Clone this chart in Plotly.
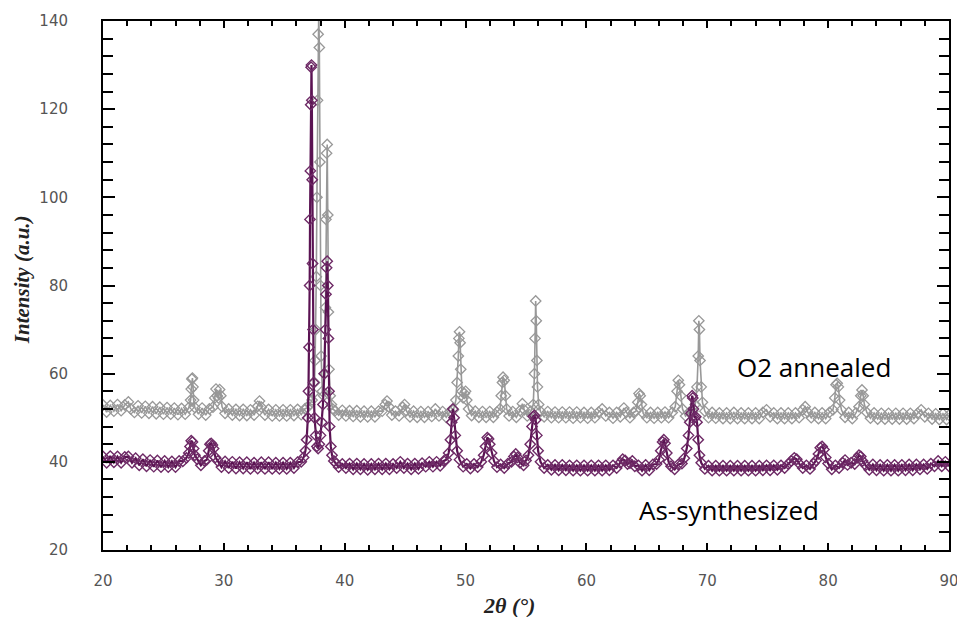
import plotly.graph_objects as go

# ---- O2 annealed (grey) ----
o2_x = [20.0, 20.3, 20.6, 20.9, 21.2, 21.5, 21.8, 22.1, 22.3, 22.6, 22.9, 23.2, 23.5, 23.8, 24.1, 24.4, 24.7, 25.0,
        25.3, 25.6, 25.9, 26.2, 26.5, 26.8, 27.1, 27.25, 27.3, 27.35, 27.4, 27.45, 27.5, 27.6, 27.9, 28.2, 28.5, 28.8,
        29.1, 29.25, 29.35, 29.45, 29.55, 29.65, 29.75, 29.85, 30.1, 30.4, 30.7, 31.0, 31.3, 31.6, 31.9, 32.2, 32.5,
        32.8, 32.95, 33.1, 33.4, 33.7, 34.0, 34.3, 34.6, 34.9, 35.2, 35.5, 35.8, 36.1, 36.4, 36.7, 36.9, 37.1, 37.3,
        37.4, 37.5, 37.55, 37.6, 37.65, 37.7, 37.75, 37.8, 37.85, 37.9, 37.95, 38.0, 38.05, 38.15, 38.25, 38.35, 38.4,
        38.45, 38.5, 38.55, 38.6, 38.65, 38.7, 38.8, 38.9, 39.0, 39.2, 39.5, 39.8, 40.1, 40.4, 40.7, 41.0, 41.3, 41.6,
        41.9, 42.2, 42.5, 42.8, 43.1, 43.35, 43.5, 43.65, 43.9, 44.2, 44.5, 44.8, 44.95, 45.1, 45.4, 45.7, 46.0, 46.3,
        46.6, 46.9, 47.2, 47.5, 47.8, 48.1, 48.4, 48.7, 49.0, 49.2, 49.3, 49.4, 49.45, 49.5, 49.55, 49.6, 49.7, 49.8,
        49.9, 50.0, 50.1, 50.25, 50.5, 50.8, 51.1, 51.4, 51.7, 52.0, 52.3, 52.6, 52.85, 52.95, 53.05, 53.1, 53.2, 53.3,
        53.4, 53.6, 53.9, 54.2, 54.5, 54.7, 54.85, 55.1, 55.4, 55.6, 55.7, 55.75, 55.8, 55.85, 55.9, 55.95, 56.05,
        56.2, 56.5, 56.8, 57.1, 57.4, 57.7, 58.0, 58.3, 58.6, 58.9, 59.2, 59.5, 59.8, 60.1, 60.4, 60.7, 61.0, 61.3,
        61.6, 61.9, 62.2, 62.5, 62.8, 63.1, 63.3, 63.6, 63.9, 64.1, 64.25, 64.35, 64.45, 64.55, 64.7, 65.0, 65.3, 65.6,
        65.9, 66.2, 66.5, 66.8, 67.1, 67.35, 67.5, 67.6, 67.7, 67.8, 67.95, 68.2, 68.5, 68.8, 69.0, 69.15, 69.25, 69.3,
        69.35, 69.4, 69.5, 69.6, 69.8, 70.1, 70.4, 70.7, 71.0, 71.3, 71.6, 71.9, 72.2, 72.5, 72.8, 73.1, 73.4, 73.7,
        74.0, 74.3, 74.6, 74.9, 75.2, 75.5, 75.8, 76.1, 76.4, 76.7, 77.0, 77.3, 77.6, 77.9, 78.1, 78.3, 78.6, 78.9,
        79.2, 79.5, 79.8, 80.1, 80.4, 80.55, 80.65, 80.75, 80.85, 80.95, 81.1, 81.4, 81.7, 82.0, 82.3, 82.55, 82.7,
        82.8, 82.9, 83.0, 83.2, 83.5, 83.8, 84.1, 84.4, 84.7, 85.0, 85.3, 85.6, 85.9, 86.2, 86.5, 86.8, 87.1, 87.4,
        87.7, 88.0, 88.3, 88.6, 88.9, 89.2, 89.5, 89.8, 90.0]
o2_y = [52.9, 51.3, 52.8, 51.5, 53.0, 51.6, 52.9, 53.6, 52.0, 51.2, 52.7, 51.1, 52.6, 51.0, 52.5, 50.9, 52.4, 50.8,
        52.3, 50.8, 52.2, 50.7, 52.1, 50.8, 52.3, 54.0, 56.5, 58.8, 59.0, 57.0, 54.0, 52.3, 50.8, 52.2, 50.6, 52.0,
        52.4, 54.5, 56.5, 55.0, 54.5, 56.4, 55.0, 52.5, 51.0, 52.0, 50.6, 51.9, 50.5, 51.9, 50.5, 51.8, 50.6,
        52.6, 53.8, 52.4, 50.6, 51.9, 50.4, 51.8, 50.4, 51.8, 50.4, 51.8, 50.5, 51.9, 50.7, 52.0, 52.3, 53.0, 54.0,
        55.5, 58.0, 63.0, 70.0, 82.0, 100.0, 122.0, 137.0, 142.0, 134.0, 108.0, 80.0, 64.0, 56.0, 55.0, 60.0, 75.0,
        95.0, 110.0, 112.0, 96.0, 74.0, 61.0, 55.0, 53.0, 52.0, 51.6, 50.6, 51.7, 50.4, 51.6, 50.3, 51.6, 50.2, 51.5,
        50.2, 51.5, 50.2, 51.5, 51.5, 53.0, 53.8, 52.5, 50.6, 51.5, 50.4, 52.4, 53.0, 51.6, 50.2, 51.5, 50.1, 51.4,
        50.1, 51.4, 50.3, 52.0, 50.4, 51.4, 50.1, 51.4, 51.8, 54.0, 58.0, 64.0, 68.0, 69.5, 67.0, 61.0, 56.0, 54.5,
        55.5, 56.0, 54.0, 52.0, 50.5, 51.5, 50.1, 51.4, 50.1, 51.4, 50.1, 51.3, 52.0, 55.0, 58.0, 59.2, 58.5, 55.0,
        52.0, 50.4, 51.4, 50.1, 51.6, 53.2, 51.8, 50.4, 51.5, 53.0, 60.0, 68.0, 76.5, 72.0, 63.0, 57.0, 53.0,
        51.4, 50.2, 51.4, 50.0, 51.3, 50.0, 51.3, 50.0, 51.3, 49.9, 51.3, 50.0, 51.2, 49.9, 51.2, 50.0, 51.3, 52.0,
        50.4, 51.2, 49.9, 51.2, 50.2, 52.2, 51.2, 50.0, 51.2, 51.5, 53.5, 55.5, 55.0, 53.0, 51.0, 50.0, 51.2, 49.9,
        51.2, 50.0, 51.3, 50.0, 51.2, 52.5, 56.0, 58.5, 57.5, 55.0, 52.0, 50.4, 51.2, 51.5, 53.0, 57.0, 64.0, 72.0,
        70.0, 63.0, 57.0, 53.5, 51.5, 50.0, 51.2, 49.9, 51.1, 49.8, 51.1, 49.8, 51.2, 49.8, 51.1, 49.8, 51.1, 49.8,
        51.1, 49.8, 51.2, 51.8, 50.2, 51.1, 49.8, 51.1, 49.8, 51.1, 49.8, 51.1, 50.0, 51.8, 52.5, 51.3, 50.0, 51.2,
        49.8, 51.1, 49.8, 51.2, 51.8, 54.5, 57.5, 57.8, 57.0, 54.0, 51.8, 50.1, 51.2, 49.8, 51.1, 52.5, 55.0,
        56.3, 55.0, 53.0, 51.2, 49.9, 51.1, 49.7, 51.0, 49.7, 51.0, 49.7, 51.0, 49.7, 51.0, 49.7, 51.0, 49.8, 51.0,
        51.8, 50.2, 51.0, 49.7, 50.9, 49.6, 50.9, 49.6, 50.6]

# ---- As-synthesized (purple) ----
as_x = [20.0, 20.3, 20.6, 20.9, 21.2, 21.5, 21.8, 22.1, 22.4, 22.7, 23.0, 23.3, 23.6, 23.9, 24.2, 24.5, 24.8, 25.1,
        25.4, 25.7, 26.0, 26.3, 26.6, 26.9, 27.1, 27.2, 27.3, 27.4, 27.5, 27.6, 27.8, 28.1, 28.4, 28.6, 28.75, 28.85,
        28.95, 29.05, 29.15, 29.3, 29.5, 29.8, 30.1, 30.4, 30.7, 31.0, 31.3, 31.6, 31.9, 32.2, 32.5, 32.8, 33.1, 33.4,
        33.7, 34.0, 34.3, 34.6, 34.9, 35.2, 35.5, 35.8, 36.1, 36.4, 36.6, 36.75, 36.85, 36.95, 37.0, 37.05, 37.1,
        37.13, 37.16, 37.19, 37.22, 37.25, 37.28, 37.31, 37.34, 37.38, 37.43, 37.5, 37.6, 37.7, 37.8, 37.9, 38.0,
        38.1, 38.2, 38.3, 38.4, 38.45, 38.5, 38.55, 38.6, 38.65, 38.7, 38.75, 38.85, 38.95, 39.1, 39.3, 39.5, 39.8,
        40.1, 40.4, 40.7, 41.0, 41.3, 41.6, 41.9, 42.2, 42.5, 42.8, 43.1, 43.4, 43.7, 44.0, 44.3, 44.6, 44.9, 45.2,
        45.5, 45.8, 46.1, 46.4, 46.7, 47.0, 47.3, 47.6, 47.9, 48.2, 48.4, 48.6, 48.75, 48.85, 48.95, 49.05, 49.15,
        49.3, 49.5, 49.8, 50.1, 50.4, 50.7, 51.0, 51.3, 51.5, 51.65, 51.8, 51.9, 52.0, 52.15, 52.35, 52.6, 52.9,
        53.2, 53.5, 53.8, 54.0, 54.15, 54.3, 54.5, 54.8, 55.0, 55.2, 55.35, 55.5, 55.6, 55.7, 55.8, 55.9, 56.0,
        56.2, 56.5, 56.8, 57.1, 57.4, 57.7, 58.0, 58.3, 58.6, 58.9, 59.2, 59.5, 59.8, 60.1, 60.4, 60.7, 61.0, 61.3,
        61.6, 61.9, 62.2, 62.5, 62.8, 63.0, 63.2, 63.4, 63.6, 63.8, 64.0, 64.3, 64.6, 64.9, 65.2, 65.5, 65.8, 66.0,
        66.15, 66.3, 66.4, 66.5, 66.65, 66.8, 67.0, 67.3, 67.6, 67.9, 68.1, 68.3, 68.45, 68.55, 68.65, 68.75, 68.8,
        68.85, 68.95, 69.05, 69.15, 69.25, 69.35, 69.5, 69.8, 70.1, 70.4, 70.7, 71.0, 71.3, 71.6, 71.9, 72.2, 72.5,
        72.8, 73.1, 73.4, 73.7, 74.0, 74.3, 74.6, 74.9, 75.2, 75.5, 75.8, 76.1, 76.4, 76.7, 76.95, 77.2, 77.4, 77.6,
        77.9, 78.2, 78.5, 78.8, 79.0, 79.2, 79.35, 79.5, 79.65, 79.8, 80.0, 80.3, 80.6, 80.9, 81.2, 81.4, 81.6, 81.9,
        82.2, 82.4, 82.55, 82.7, 82.85, 83.1, 83.4, 83.7, 84.0, 84.3, 84.6, 84.9, 85.2, 85.5, 85.8, 86.1, 86.4, 86.7,
        87.0, 87.3, 87.6, 87.9, 88.2, 88.5, 88.8, 89.1, 89.4, 89.7, 90.0]
as_y = [41.2, 39.8, 41.3, 39.9, 41.2, 39.8, 41.1, 41.2, 39.8, 40.8, 39.2, 40.6, 39.0, 40.4, 38.9, 40.3, 38.8, 40.2,
        38.8, 40.1, 38.8, 40.2, 40.1, 40.9, 42.0, 43.5, 44.8, 44.5, 43.0, 41.5, 40.6, 39.2, 40.2, 40.5, 42.5, 44.0,
        44.2, 43.8, 43.0, 41.0, 40.2, 38.8, 40.1, 38.6, 40.0, 38.5, 39.9, 38.5, 39.9, 38.4, 39.8, 38.5, 39.9, 38.4,
        39.9, 38.4, 39.8, 38.4, 39.8, 38.4, 39.8, 38.6, 39.9, 40.0, 41.0, 42.5, 45.0, 50.0, 56.0, 66.0, 80.0,
        95.0, 106.0, 121.0, 129.5, 130.0, 122.0, 104.0, 85.0, 70.0, 58.0, 50.0, 46.0, 43.5, 43.0, 44.0, 46.0,
        49.0, 53.0, 60.0, 70.0, 78.0, 84.0, 85.5, 80.0, 68.0, 56.0, 48.0, 43.5, 41.5, 40.2, 39.6, 38.8, 39.5,
        38.6, 39.6, 38.3, 39.6, 38.3, 39.5, 38.2, 39.5, 38.3, 39.6, 38.3, 39.6, 38.3, 39.5, 38.6, 40.0, 38.6, 39.6,
        38.3, 39.6, 38.4, 39.7, 38.9, 40.0, 38.9, 40.0, 39.1, 40.2, 40.5, 42.0, 45.0, 49.0, 52.0, 50.0, 46.0,
        42.5, 40.5, 38.9, 39.5, 38.5, 39.5, 38.8, 40.0, 41.5, 43.5, 45.5, 45.2, 44.0, 42.0, 40.2, 38.8, 39.4,
        38.6, 39.6, 40.0, 41.2, 41.8, 41.0, 39.8, 39.2, 40.3, 41.5, 44.0, 48.0, 50.3, 50.5, 49.5, 46.0, 42.5,
        40.0, 38.6, 39.3, 38.2, 39.3, 38.1, 39.3, 38.1, 39.2, 38.0, 39.2, 38.0, 39.2, 38.0, 39.2, 38.0, 39.2, 38.0,
        39.2, 38.1, 39.2, 38.6, 39.8, 40.6, 40.3, 39.5, 39.7, 40.2, 39.0, 39.2, 38.0, 39.3, 38.1, 39.4, 39.5, 40.5,
        42.5, 44.5, 45.0, 44.2, 42.0, 40.0, 39.0, 38.3, 39.4, 39.6, 40.8, 43.0, 46.0, 49.0, 51.0, 55.0, 54.5,
        52.0, 50.0, 50.2, 49.0, 45.0, 41.5, 39.8, 38.4, 39.1, 38.0, 39.1, 38.0, 39.1, 38.0, 39.1, 38.0, 39.1, 38.0,
        39.1, 38.0, 39.1, 38.0, 39.1, 38.1, 39.2, 38.1, 39.2, 38.2, 39.2, 38.6, 39.5, 40.2, 40.9, 40.6, 39.6,
        38.6, 39.2, 38.4, 39.6, 40.3, 41.8, 43.2, 43.5, 42.8, 41.0, 39.6, 38.3, 39.2, 38.6, 39.8, 40.4, 39.3, 39.8,
        39.5, 40.9, 41.5, 41.2, 40.2, 39.2, 38.2, 39.4, 38.1, 39.3, 38.0, 39.3, 38.0, 39.3, 38.0, 39.3, 38.1, 39.4,
        38.1, 39.4, 38.3, 39.4, 38.4, 39.6, 39.0, 40.2, 39.0, 40.0, 39.0]

x_range = [20, 90]
y_range = [20, 140]
label_o2 = "O2 annealed"
label_as = "As-synthesized"

GREY = "#989898"
PURPLE = "#5a1252"
PURPLE_MK = "#6e2a66"

fig = go.Figure()
fig.add_trace(go.Scatter(
    x=o2_x, y=o2_y, mode="lines+markers", name=label_o2,
    line=dict(color=GREY, width=1.6),
    marker=dict(symbol="diamond-open", size=8, color=GREY, line=dict(width=1.3, color=GREY)),
))
fig.add_trace(go.Scatter(
    x=as_x, y=as_y, mode="lines+markers", name=label_as,
    line=dict(color=PURPLE, width=2.2),
    marker=dict(symbol="diamond-open", size=8, color=PURPLE_MK, line=dict(width=1.4, color=PURPLE_MK)),
))

tickfont = dict(family="DejaVu Sans", size=15, color="#555555")

fig.update_layout(
    width=957, height=617,
    margin=dict(l=103, r=8, t=21, b=67),
    paper_bgcolor="white", plot_bgcolor="white",
    showlegend=False,
    xaxis=dict(
        range=x_range, dtick=10, tick0=20, showgrid=False, zeroline=False, automargin=False,
        showline=True, linecolor="black", linewidth=2, mirror="ticks",
        ticks="inside", ticklen=7, tickwidth=2, tickcolor="black",
        minor=dict(dtick=2, ticks="inside", ticklen=5, tickwidth=1.5, tickcolor="black", showgrid=False),
        tickfont=tickfont, ticklabelstandoff=16, ticklabeloverflow="allow",
    ),
    yaxis=dict(
        range=y_range, dtick=20, tick0=20, showgrid=False, zeroline=False, automargin=False,
        showline=True, linecolor="black", linewidth=2, mirror="ticks",
        ticks="inside", ticklen=12, tickwidth=2, tickcolor="black",
        minor=dict(dtick=4, ticks="inside", ticklen=10, tickwidth=1.5, tickcolor="black", showgrid=False),
        tickfont=tickfont, ticklabelstandoff=30, ticklabeloverflow="allow",
    ),
    annotations=[
        dict(text="<b><i>2θ (°)</i></b>", xref="paper", yref="paper", x=0.48, y=0,
             yshift=-55, showarrow=False, xanchor="center", yanchor="middle",
             font=dict(family="Liberation Serif", size=22, color="#222222")),
        dict(text="<b><i>Intensity (a.u.)</i></b>", xref="paper", yref="paper", x=0, y=0.51,
             xshift=-81, showarrow=False, textangle=-90, xanchor="center", yanchor="middle",
             font=dict(family="Liberation Serif", size=21, color="#222222")),
        dict(text=label_o2, x=72.3, y=61.5, xref="x", yref="y", showarrow=False,
             xanchor="left", yanchor="middle",
             font=dict(family="Open Sans", size=26, color="black")),
        dict(text=label_as, x=64.2, y=29.1, xref="x", yref="y", showarrow=False,
             xanchor="left", yanchor="middle",
             font=dict(family="Open Sans", size=26, color="black")),
    ],
)

fig.write_html("out.html")
